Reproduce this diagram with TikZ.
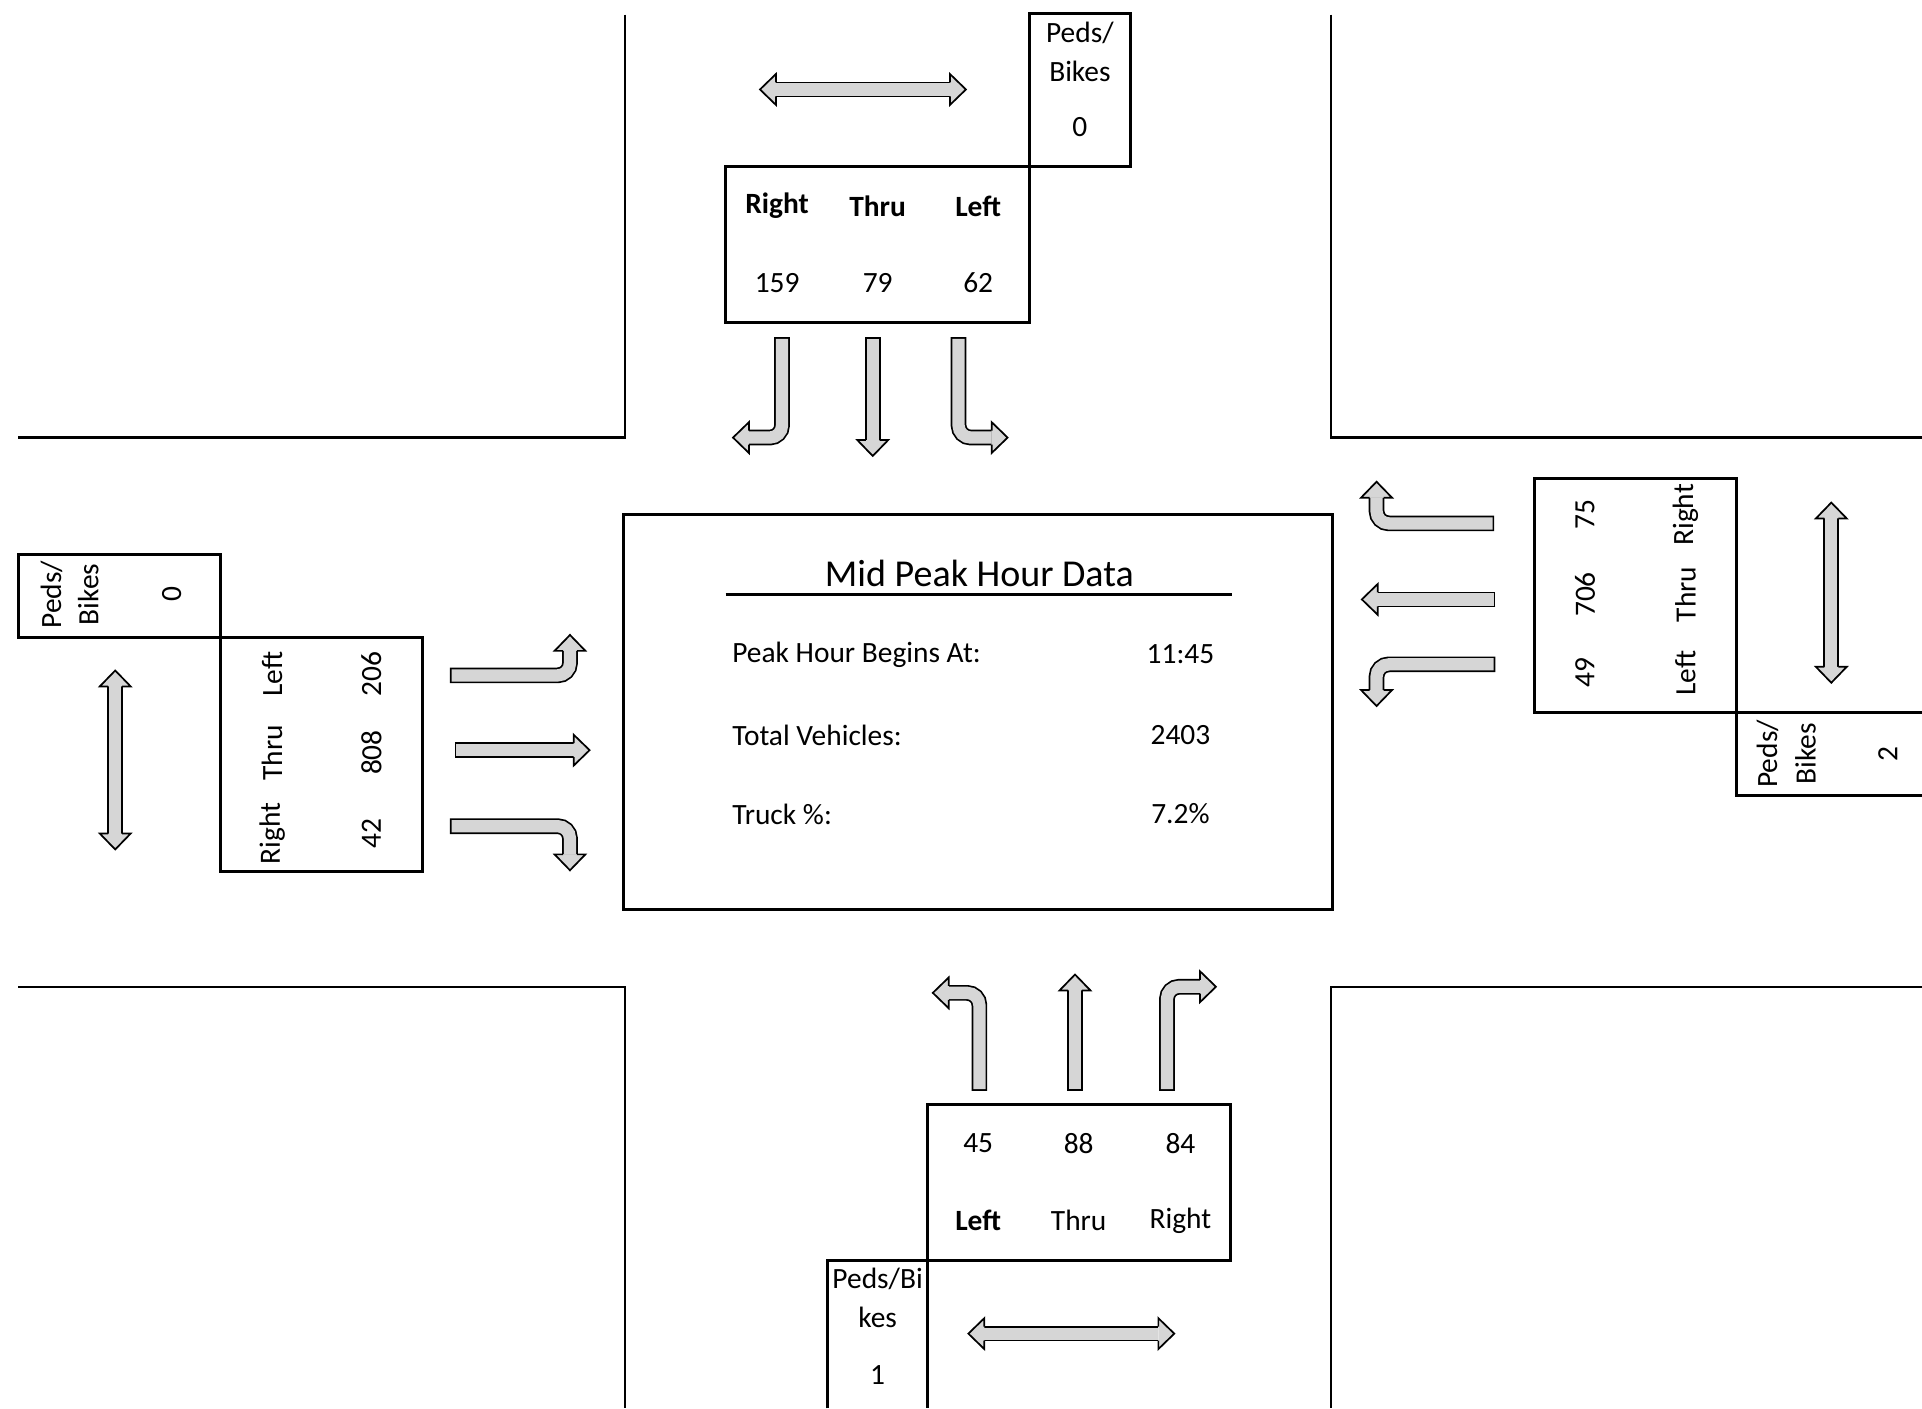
\documentclass[tikz,border=0pt]{standalone}
\usepackage{fontspec}
\setmainfont{Carlito}
\definecolor{lanegray}{HTML}{D6D6D6}
\begin{document}
\begin{tikzpicture}[x=0.5pt,y=-0.5pt,
  curb/.style={line width=1pt},
  box/.style={line width=1.2pt},
  txt/.style={font=\fontsize{12}{14}\selectfont, inner sep=0pt},
  side/.style={txt, rotate=90},
  data/.style={font=\fontsize{12}{14}\selectfont, inner sep=0pt},
  lane/.style={line width=6.4pt, rounded corners=5pt,
    postaction={draw=lanegray, line width=5pt, shorten <=0.7pt}},
  walk/.style={line width=6.4pt, postaction={draw=lanegray, line width=5pt}},
  lanehead/.pic={\filldraw[fill=lanegray, line width=0.7pt, line join=miter]
    (0,2.85pt) -- (0,6.3pt) -- (6.5pt,0) -- (0,-6.3pt) -- (0,-2.85pt);}]
\useasboundingbox (0,0) rectangle (1568,1149);

% curbs
\draw[curb] (510,12) -- (510,357) -- (15,357);
\draw[curb] (1086,12) -- (1086,357) -- (1568,357);
\draw[curb] (15,805) -- (510,805) -- (510,1149);
\draw[curb] (1568,805) -- (1086,805) -- (1086,1149);

% summary
\draw[box] (509,420) rectangle (1087,742);
\node[font=\fontsize{15.5}{18}\selectfont, inner sep=0pt] (title) at (799,468) {Mid Peak Hour Data};
\draw[curb] (592,485) -- (1005,485);
\node[data, anchor=west] (begins) at (597,534) {Peak Hour Begins At:};
\node[data] (begval) at (963,534) {11:45};
\node[data, anchor=west] (total) at (597,600) {Total Vehicles:};
\node[data] (totval) at (963,600) {2403};
\node[data, anchor=west] (truck) at (597,664) {Truck \%:};
\node[data] (truckval) at (963,664) {7.2\%};

% north approach
\draw[box] (592,136) rectangle (840,263);
\draw[box] (840,11) rectangle (922,136);
\node[txt] (nR) at (634,168) {\textbf{Right}};
\node[txt] (nT) at (716,168) {\textbf{Thru}};
\node[txt] (nL) at (798,168) {\textbf{Left}};
\node[txt] (nRv) at (634,231) {159};
\node[txt] (nTv) at (716,231) {79};
\node[txt] (nLv) at (798,231) {62};
\node[txt] (nP1) at (881,27) {Peds/};
\node[txt] (nP2) at (881,58) {Bikes};
\node[txt] (nPv) at (881,104) {0};
\draw[lane] (638,275) |- (611,357);
\pic[rotate=180] at (611,357) {lanehead};
\draw[lane] (712,275) -- (712,359);
\pic[rotate=-90] at (712,359) {lanehead};
\draw[lane] (782,275) |- (809,357);
\pic at (809,357) {lanehead};
\draw[walk] (633,73) -- (775,73);
\pic[rotate=180] at (633,73) {lanehead};
\pic at (775,73) {lanehead};

% west approach
\draw[box] (180,520) rectangle (345,711);
\draw[box] (15,452) rectangle (180,520);
\node[side] (wL) at (222,550) {Left};
\node[side] (wT) at (222,614) {Thru};
\node[side] (wR) at (222,680) {Right};
\node[side] (wLv) at (303,550) {206};
\node[side] (wTv) at (303,614) {808};
\node[side] (wRv) at (303,680) {42};
\node[side] (wP1) at (42,485) {Peds/};
\node[side] (wP2) at (72,485) {Bikes};
\node[side] (wPv) at (140,485) {0};
\draw[lane] (367,551) -| (465,531);
\pic[rotate=90] at (465,531) {lanehead};
\draw[lane] (371,612) -- (468,612);
\pic at (468,612) {lanehead};
\draw[lane] (367,674) -| (465,697);
\pic[rotate=-90] at (465,697) {lanehead};
\draw[walk] (94,560) -- (94,680);
\pic[rotate=90] at (94,560) {lanehead};
\pic[rotate=-90] at (94,680) {lanehead};

% east approach
\draw[box] (1252,390) rectangle (1417,581);
\draw[box] (1568,581) -- (1417,581) -- (1417,649) -- (1568,649);
\node[side] (eRv) at (1293,420) {75};
\node[side] (eTv) at (1293,485) {706};
\node[side] (eLv) at (1293,549) {49};
\node[side] (eR) at (1375,420) {Right};
\node[side] (eT) at (1375,485) {Thru};
\node[side] (eL) at (1375,549) {Left};
\node[side] (eP1) at (1442,615) {Peds/};
\node[side] (eP2) at (1473,615) {Bikes};
\node[side] (ePv) at (1540,615) {2};
\draw[lane] (1219,427) -| (1123,406);
\pic[rotate=90] at (1123,406) {lanehead};
\draw[lane] (1220,489) -- (1124,489);
\pic[rotate=180] at (1124,489) {lanehead};
\draw[lane] (1220,542) -| (1123,563);
\pic[rotate=-90] at (1123,563) {lanehead};
\draw[walk] (1494,423) -- (1494,544);
\pic[rotate=90] at (1494,423) {lanehead};
\pic[rotate=-90] at (1494,544) {lanehead};

% south approach
\draw[box] (757,901) rectangle (1004,1028);
\draw[box] (675,1149) -- (675,1028) -- (757,1028) -- (757,1149);
\node[txt] (sLv) at (798,933) {45};
\node[txt] (sTv) at (880,933) {88};
\node[txt] (sRv) at (963,933) {84};
\node[txt] (sL) at (798,996) {\textbf{Left}};
\node[txt] (sT) at (880,996) {Thru};
\node[txt] (sR) at (963,996) {Right};
\node[txt] (sP1) at (716,1043) {Peds/Bi};
\node[txt] (sP2) at (716,1075) {kes};
\node[txt] (sPv) at (716,1122) {1};
\draw[lane] (799,890) |- (774,810);
\pic[rotate=180] at (774,810) {lanehead};
\draw[lane] (877,890) -- (877,808);
\pic[rotate=90] at (877,808) {lanehead};
\draw[lane] (952,890) |- (979,805);
\pic at (979,805) {lanehead};
\draw[walk] (803,1088) -- (945,1088);
\pic[rotate=180] at (803,1088) {lanehead};
\pic at (945,1088) {lanehead};
\end{tikzpicture}
\end{document}
